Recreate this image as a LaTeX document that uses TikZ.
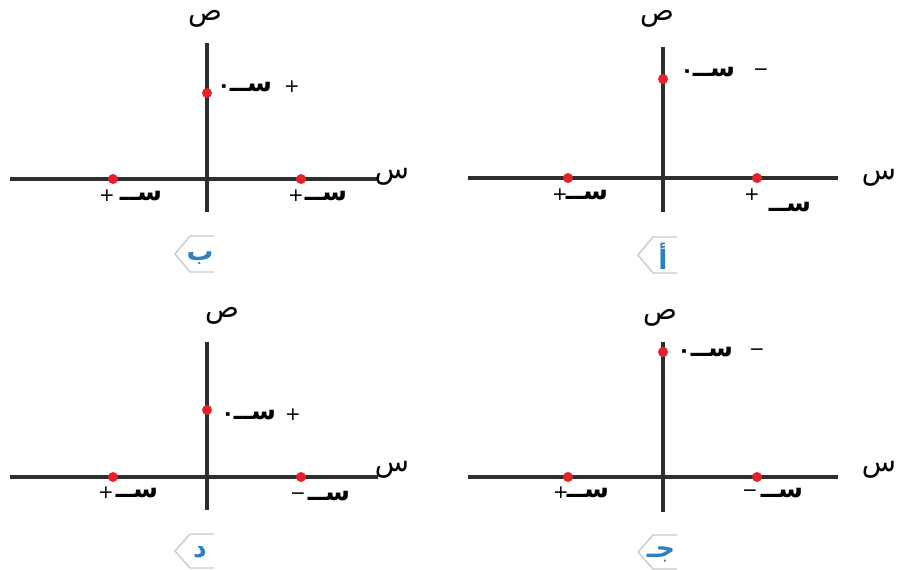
\documentclass[tikz,border=0pt]{standalone}
\usepackage{fontspec}
\newfontfamily\arabicfont[Script=Arabic]{DejaVu Sans}
\TeXXeTstate=1
\definecolor{axisgray}{HTML}{2E2E2E}
\definecolor{ptred}{HTML}{E8202A}
\definecolor{tagblue}{HTML}{2F7FC1}
\definecolor{taggray}{HTML}{C8C8C8}
\begin{document}
\begin{tikzpicture}[x=0.75pt,y=-0.75pt,
  axis/.style={draw=axisgray,line width=2.3pt},
  charge/.style={circle,fill=ptred,inner sep=0pt,minimum size=7.5pt},
  ar/.style={font=\arabicfont\bfseries\fontsize{19}{19}\selectfont,inner sep=0pt,text=black},
  dt/.style={font=\arabicfont\bfseries\fontsize{16}{16}\selectfont,inner sep=0pt,text=black},
  axl/.style={font=\arabicfont\fontsize{21}{21}\selectfont,inner sep=0pt,text=black},
  sgn/.style={font=\arabicfont\fontsize{14}{14}\selectfont,inner sep=0pt,text=black},
  tagline/.style={draw=taggray,line width=1pt},
  taglet/.style={font=\arabicfont\bfseries\fontsize{20}{20}\selectfont,text=tagblue,inner sep=0pt}]
\useasboundingbox (0,0) rectangle (902,569);

% ---------- panel a (top right) ----------
\coordinate (a-yt) at (663,47); \coordinate (a-yb) at (663,212);
\coordinate (a-xl) at (468,178); \coordinate (a-xr) at (838,178);
\draw[axis] (a-yt) -- (a-yb);
\draw[axis] (a-xl) -- (a-xr);
\node[charge] (a-q1) at (663,79) {};
\node[charge] (a-q2) at (568,178) {};
\node[charge] (a-q3) at (757,178) {};
\node[axl] (a-Y) at (657,19) {\beginR ص\endR};
\node[axl] (a-X) at (879,178) {\beginR س\endR};
\node[dt] (a-d1) at (687,74) {٠};
\node[ar] (a-l1) at (714,72) {\beginR ســ\endR};
\node[sgn] (a-s1) at (761,72) {−};
\node[sgn] (a-s2) at (560,195) {+};
\node[ar] (a-l2) at (587,195) {\beginR ســ\endR};
\node[sgn] (a-s3) at (752,195) {+};
\node[ar] (a-l3) at (790,207) {\beginR ســ\endR};
\coordinate (a-t1) at (677,237); \coordinate (a-t2) at (653,237);
\coordinate (a-t3) at (638,255); \coordinate (a-t4) at (653,273);
\coordinate (a-t5) at (677,273);
\draw[tagline] (a-t1) -- (a-t2) -- (a-t3) -- (a-t4) -- (a-t5);
\node[taglet] (a-tag) at (663,256) {\beginR أ\endR};

% ---------- panel b (top left) ----------
\coordinate (b-yt) at (207,43); \coordinate (b-yb) at (207,212);
\coordinate (b-xl) at (10,179); \coordinate (b-xr) at (378,179);
\draw[axis] (b-yt) -- (b-yb);
\draw[axis] (b-xl) -- (b-xr);
\node[charge] (b-q1) at (207,93) {};
\node[charge] (b-q2) at (113,179) {};
\node[charge] (b-q3) at (301,179) {};
\node[axl] (b-Y) at (205,19) {\beginR ص\endR};
\node[axl] (b-X) at (392,177) {\beginR س\endR};
\node[dt] (b-d1) at (224,89) {٠};
\node[ar] (b-l1) at (251,87) {\beginR ســ\endR};
\node[sgn] (b-s1) at (292,87) {+};
\node[sgn] (b-s2) at (107,196) {+};
\node[ar] (b-l2) at (141,196) {\beginR ســ\endR};
\node[sgn] (b-s3) at (296,196) {+};
\node[ar] (b-l3) at (326,196) {\beginR ســ\endR};
\coordinate (b-t1) at (214,236); \coordinate (b-t2) at (190,236);
\coordinate (b-t3) at (175,254); \coordinate (b-t4) at (190,272);
\coordinate (b-t5) at (214,272);
\draw[tagline] (b-t1) -- (b-t2) -- (b-t3) -- (b-t4) -- (b-t5);
\node[taglet] (b-tag) at (200,258) {\beginR ب\endR};

% ---------- panel c (bottom right) ----------
\coordinate (c-yt) at (663,342); \coordinate (c-yb) at (663,512);
\coordinate (c-xl) at (468,477); \coordinate (c-xr) at (838,477);
\draw[axis] (c-yt) -- (c-yb);
\draw[axis] (c-xl) -- (c-xr);
\node[charge] (c-q1) at (663,352) {};
\node[charge] (c-q2) at (568,477) {};
\node[charge] (c-q3) at (757,477) {};
\node[axl] (c-Y) at (660,318) {\beginR ص\endR};
\node[axl] (c-X) at (879,470) {\beginR س\endR};
\node[dt] (c-d1) at (684,354) {٠};
\node[ar] (c-l1) at (712,352) {\beginR ســ\endR};
\node[sgn] (c-s1) at (757,352) {−};
\node[sgn] (c-s2) at (561,493) {+};
\node[ar] (c-l2) at (588,493) {\beginR ســ\endR};
\node[sgn] (c-s3) at (750,493) {−};
\node[ar] (c-l3) at (782,493) {\beginR ســ\endR};
\coordinate (c-t1) at (677,535); \coordinate (c-t2) at (653,535);
\coordinate (c-t3) at (638,552); \coordinate (c-t4) at (653,569);
\coordinate (c-t5) at (677,569);
\draw[tagline] (c-t1) -- (c-t2) -- (c-t3) -- (c-t4) -- (c-t5);
\node[taglet] (c-tag) at (661,554) {\beginR جـ\endR};

% ---------- panel d (bottom left) ----------
\coordinate (d-yt) at (207,342); \coordinate (d-yb) at (207,510);
\coordinate (d-xl) at (10,477); \coordinate (d-xr) at (378,477);
\draw[axis] (d-yt) -- (d-yb);
\draw[axis] (d-xl) -- (d-xr);
\node[charge] (d-q1) at (207,410) {};
\node[charge] (d-q2) at (113,477) {};
\node[charge] (d-q3) at (301,477) {};
\node[axl] (d-Y) at (222,316) {\beginR ص\endR};
\node[axl] (d-X) at (392,470) {\beginR س\endR};
\node[dt] (d-d1) at (228,417) {٠};
\node[ar] (d-l1) at (255,415) {\beginR ســ\endR};
\node[sgn] (d-s1) at (293,415) {+};
\node[sgn] (d-s2) at (106,493) {+};
\node[ar] (d-l2) at (137,493) {\beginR ســ\endR};
\node[sgn] (d-s3) at (298,496) {−};
\node[ar] (d-l3) at (329,496) {\beginR ســ\endR};
\coordinate (d-t1) at (214,534); \coordinate (d-t2) at (190,534);
\coordinate (d-t3) at (175,551); \coordinate (d-t4) at (190,568);
\coordinate (d-t5) at (214,568);
\draw[tagline] (d-t1) -- (d-t2) -- (d-t3) -- (d-t4) -- (d-t5);
\node[taglet] (d-tag) at (200,552) {\beginR د\endR};
\end{tikzpicture}
\end{document}
